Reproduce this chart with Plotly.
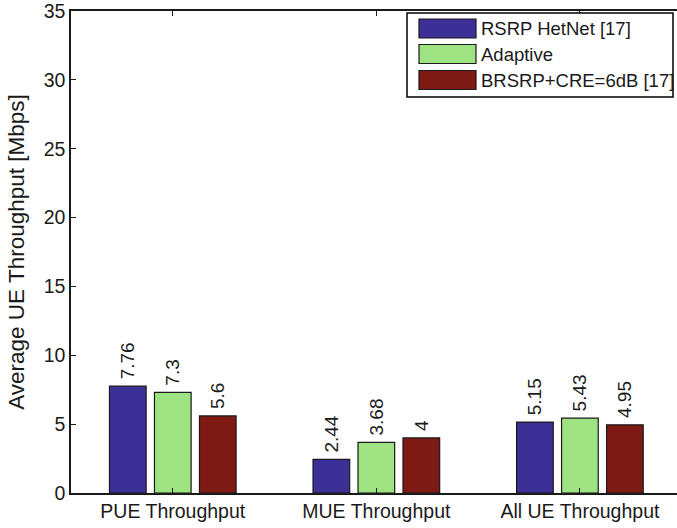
import plotly.graph_objects as go

categories = ["PUE Throughput", "MUE Throughput", "All UE Throughput"]
series_names = ["RSRP HetNet [17]", "Adaptive", "BRSRP+CRE=6dB [17]"]
rsrp_values = [7.76, 2.44, 5.15]
adaptive_values = [7.3, 3.68, 5.43]
brsrp_values = [5.6, 4.0, 4.95]
value_labels = [["7.76", "2.44", "5.15"], ["7.3", "3.68", "5.43"], ["5.6", "4", "4.95"]]
y_ticks = [0, 5, 10, 15, 20, 25, 30, 35]

colors = ["#3C2F96", "#9FE281", "#7E1A14"]
FONT = "Liberation Sans, Arial, Helvetica, sans-serif"
INK = "#1a1a1a"

fig = go.Figure()
for name, vals, labels, col in zip(series_names, [rsrp_values, adaptive_values, brsrp_values], value_labels, colors):
    fig.add_trace(go.Bar(
        x=categories, y=vals, name=name,
        marker=dict(color=col, line=dict(color=INK, width=1.2)),
        text=["\u2009" + s for s in labels], textposition="outside", textangle=-90,
        constraintext="none", cliponaxis=False,
        textfont=dict(family=FONT, size=19, color=INK),
        showlegend=False,
    ))

# legend drawn in paper coordinates (box, swatches, labels)
L, T, W, H = 71, 11, 606, 482
def px(xp):
    return (xp - L) / W
def py(yp):
    return (T + H - yp) / H

shapes = [dict(type="rect", xref="paper", yref="paper",
               x0=px(407), x1=px(673), y0=py(97), y1=py(13),
               line=dict(color="black", width=1.5), fillcolor="white", layer="above")]
annotations = []
centers = [28.5, 54, 80]
for name, col, cy in zip(series_names, colors, centers):
    shapes.append(dict(type="rect", xref="paper", yref="paper",
                       x0=px(419), x1=px(476), y0=py(cy + 9.5), y1=py(cy - 9.5),
                       line=dict(color=INK, width=1.2), fillcolor=col, layer="above"))
    annotations.append(dict(xref="paper", yref="paper", x=px(479), y=py(cy),
                            text=name, showarrow=False, xanchor="left", yanchor="middle",
                            font=dict(family=FONT, size=18.5, color=INK)))

fig.update_layout(
    width=677, height=528,
    margin=dict(l=L, r=0, t=T, b=528 - T - H),
    paper_bgcolor="white", plot_bgcolor="white",
    barmode="group", bargap=0.337, bargroupgap=0.185,
    font=dict(family=FONT, size=19.5, color=INK),
    shapes=shapes, annotations=annotations,
    xaxis=dict(type="category", range=[-0.5, 2.477], showgrid=False,
               showline=True, linecolor=INK, linewidth=1.5, mirror="ticks",
               ticks="inside", ticklen=5, tickcolor=INK,
               tickfont=dict(family=FONT, size=19.5, color=INK)),
    yaxis=dict(range=[0, 35], tickvals=y_ticks, showgrid=False, zeroline=False,
               showline=True, linecolor=INK, linewidth=1.5,
               ticks="inside", ticklen=5, tickcolor=INK, ticklabeloverflow="allow",
               tickfont=dict(family=FONT, size=19.5, color=INK),
               title=dict(text="Average UE Throughput [Mbps]", standoff=13,
                          font=dict(family=FONT, size=22.5, color=INK))),
)

fig.write_html("out.html", config={"displayModeBar": False},
               post_script="document.body.style.margin='0';document.body.style.overflow='hidden';")
